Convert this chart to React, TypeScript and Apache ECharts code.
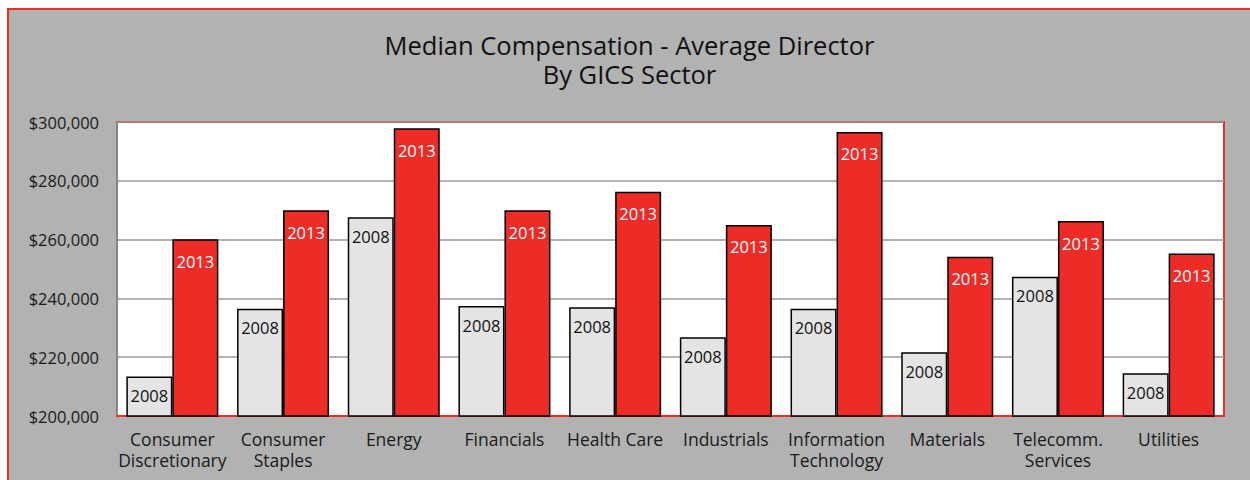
import React, { useEffect, useRef } from "react";
import * as echarts from "echarts";

const categories = [
  "Consumer\nDiscretionary",
  "Consumer\nStaples",
  "Energy",
  "Financials",
  "Health Care",
  "Industrials",
  "Information\nTechnology",
  "Materials",
  "Telecomm.\nServices",
  "Utilities",
];
const values2008 = [213400, 236500, 267600, 237400, 237000, 226800, 236500, 221700, 247400, 214500];
const values2013 = [260100, 270000, 297900, 270000, 276300, 265000, 296600, 254200, 266300, 255300];
const yMin = 200000;
const yMax = 300000;
const yStep = 20000;

const FONT = "'Open Sans', 'Noto Sans', sans-serif";

export default function App() {
  const ref = useRef<HTMLDivElement>(null);
  useEffect(() => {
    if (!ref.current) return;
    const chart = echarts.init(ref.current, null, { renderer: "svg" });
    chart.setOption({
      animation: false,
      backgroundColor: "#b2b2b2",
      textStyle: { fontFamily: FONT },
      title: {
        text: "Median Compensation - Average Director\nBy GICS Sector",
        left: "center",
        top: 15,
        textStyle: {
          fontFamily: FONT,
          fontSize: 25.5,
          fontWeight: "normal",
          color: "#111",
          lineHeight: 29,
          align: "center",
        },
      },
      grid: {
        left: 108,
        right: 26,
        top: 112,
        bottom: 64,
        show: true,
        backgroundColor: "#ffffff",
        borderColor: "#ee2d27",
        borderWidth: 2,
      },
      xAxis: {
        type: "category",
        data: categories,
        axisLine: { show: true, lineStyle: { color: "#ee2d27", width: 2 } },
        axisTick: { show: false },
        axisLabel: {
          color: "#1a1a1a",
          fontSize: 17.5,
          lineHeight: 21,
          margin: 12,
          interval: 0,
          fontFamily: FONT,
        },
      },
      yAxis: {
        type: "value",
        min: yMin,
        max: yMax,
        interval: yStep,
        axisLine: { show: true, lineStyle: { color: "#8c8484", width: 2 } },
        axisTick: { show: false },
        splitLine: { lineStyle: { color: "#999999", width: 1.5 } },
        axisLabel: {
          color: "#1a1a1a",
          fontSize: 16.5,
          margin: 18,
          fontFamily: FONT,
          formatter: (v: number) => "$" + v.toLocaleString("en-US"),
        },
      },
      series: [
        {
          name: "2008",
          type: "bar",
          data: values2008,
          barWidth: 46,
          barGap: "0%",
          itemStyle: { color: "#e4e4e4", borderColor: "#000", borderWidth: 1.5 },
          label: {
            show: true,
            position: "insideTop",
            distance: 9,
            formatter: "2008",
            color: "#111",
            fontSize: 16.5,
            lineHeight: 20,
            fontFamily: FONT,
          },
        },
        {
          name: "2013",
          type: "bar",
          data: values2013,
          barWidth: 46,
          barGap: "0%",
          itemStyle: { color: "#ee2c27", borderColor: "#000", borderWidth: 1.5 },
          label: {
            show: true,
            position: "insideTop",
            distance: 12,
            formatter: "2013",
            color: "#ffffff",
            fontSize: 16.5,
            lineHeight: 20,
            fontFamily: FONT,
          },
        },
      ],
    });
    return () => chart.dispose();
  }, []);

  return (
    <div
      style={{
        position: "absolute",
        left: 7,
        top: 8,
        width: 1243,
        height: 472,
        boxSizing: "border-box",
        borderLeft: "2px solid #ee2d27",
        borderTop: "2px solid #ee2d27",
        background: "#b2b2b2",
        overflow: "hidden",
      }}
    >
      <div ref={ref} style={{ width: 1241, height: 470 }} />
    </div>
  );
}
